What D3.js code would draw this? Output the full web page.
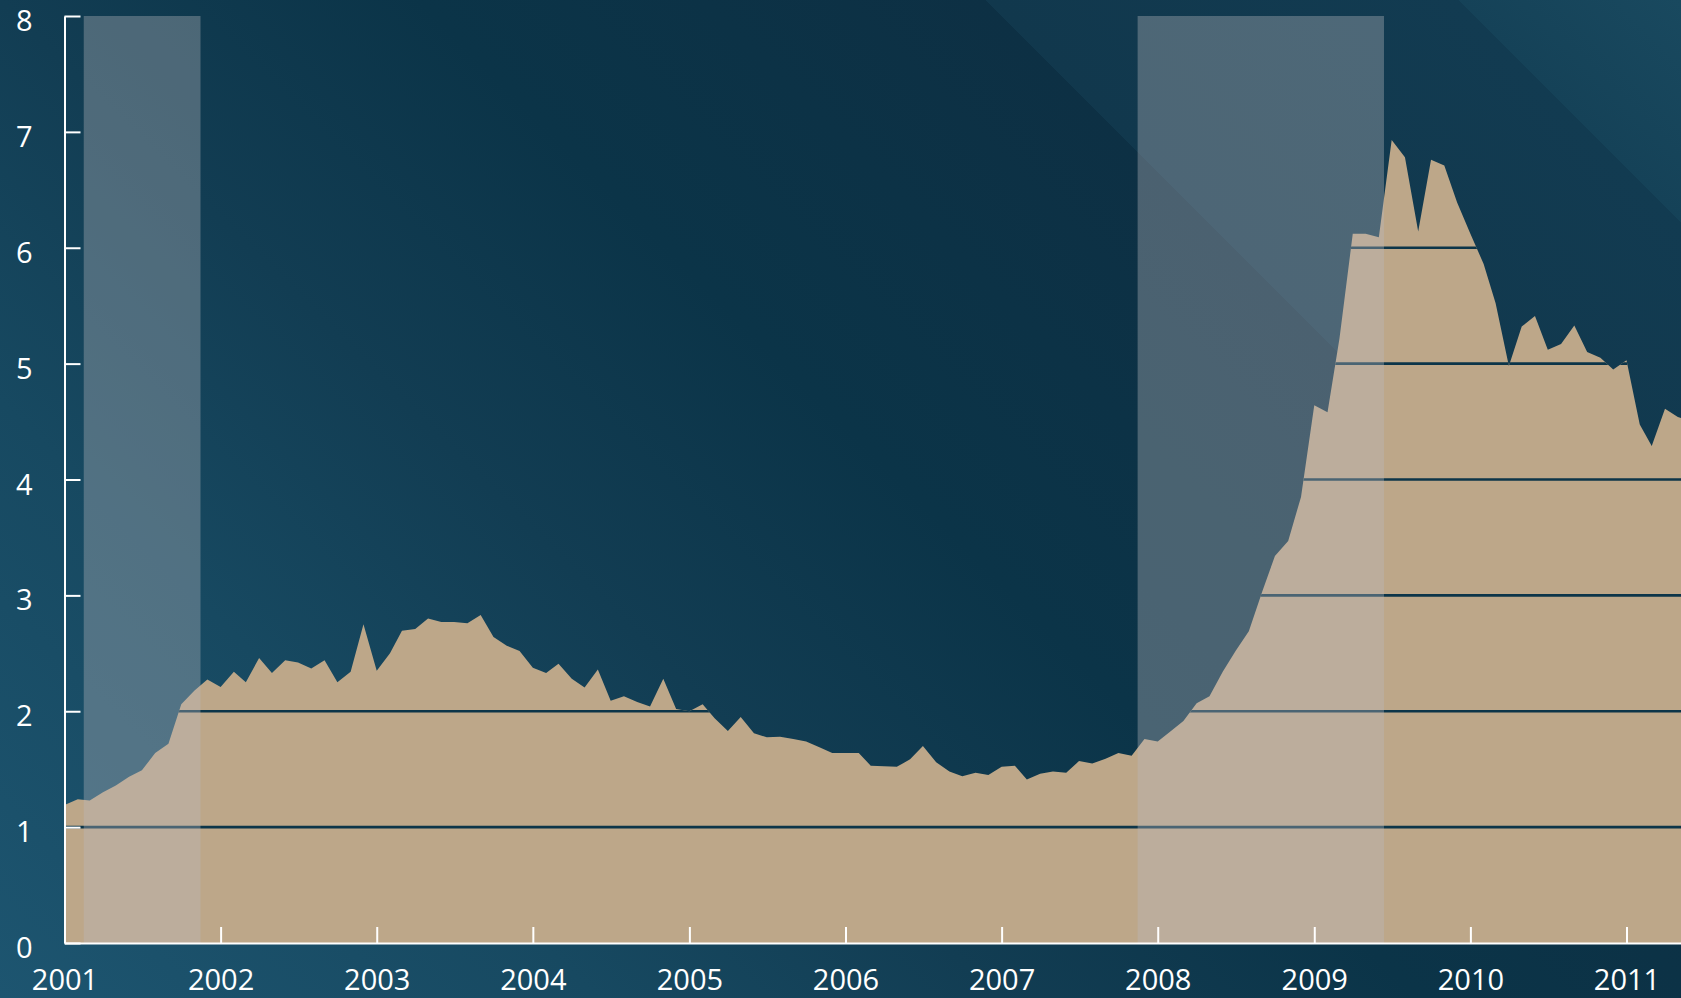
<!DOCTYPE html>
<html>
<head>
<meta charset="utf-8">
<script src="https://cdn.jsdelivr.net/npm/d3@7"></script>
<style>
  html, body { margin: 0; padding: 0; background: #0d3246; overflow: hidden; }
  svg { display: block; }
  .axis text { font-family: "Open Sans", sans-serif; font-size: 29px; fill: #fff; }
  .axis path, .axis line { stroke: #fff; stroke-width: 2; }
</style>
</head>
<body>
<svg id="chart" width="1681" height="998"></svg>
<script>
// Monthly values, Jan 2001 onwards
const startMonth = "2001-01";
const values = [
  1.19, 1.24, 1.23, 1.30, 1.36, 1.435, 1.49, 1.64, 1.72, 2.06, 2.18, 2.275,   // 2001
  2.21, 2.34, 2.25, 2.46, 2.33, 2.44, 2.42, 2.37, 2.44, 2.25, 2.34, 2.75,     // 2002
  2.35, 2.50, 2.695, 2.71, 2.80, 2.77, 2.77, 2.76, 2.83, 2.64, 2.565, 2.52,   // 2003
  2.375, 2.33, 2.41, 2.28, 2.205, 2.36, 2.09, 2.13, 2.08, 2.04, 2.28, 2.02,   // 2004
  2.00, 2.06, 1.94, 1.83, 1.95, 1.81, 1.775, 1.78, 1.76, 1.74, 1.69, 1.64,    // 2005
  1.64, 1.64, 1.53, 1.525, 1.52, 1.585, 1.70, 1.56, 1.48, 1.44, 1.47, 1.45,   // 2006
  1.52, 1.53, 1.41, 1.46, 1.48, 1.47, 1.57, 1.55, 1.59, 1.64, 1.615, 1.76,    // 2007
  1.74, 1.83, 1.915, 2.07, 2.13, 2.34, 2.52, 2.69, 3.03, 3.34, 3.47, 3.85,    // 2008
  4.64, 4.58, 5.22, 6.12, 6.12, 6.09, 6.93, 6.78, 6.14, 6.76, 6.71, 6.39,     // 2009
  6.12, 5.86, 5.52, 4.98, 5.32, 5.41, 5.12, 5.17, 5.33, 5.10, 5.05, 4.95,     // 2010
  5.03, 4.475, 4.29, 4.61, 4.54, 4.50                                         // 2011
];

// Shaded recession periods
const recessions = [
  ["2001-02-15", "2001-11-15"],
  ["2007-11-15", "2009-06-13"]
];

const yTicks = [0, 1, 2, 3, 4, 5, 6, 7, 8];
const yearTicks = [2001, 2002, 2003, 2004, 2005, 2006, 2007, 2008, 2009, 2010, 2011];

const W = 1681, H = 998;
const plotLeft = 64.5, plotBottom = 943, plotTop = 16;

const parseMonth = d3.timeParse("%Y-%m");
const parseDay = d3.timeParse("%Y-%m-%d");
const t0 = parseMonth(startMonth);
const data = values.map((v, i) => ({ date: d3.timeMonth.offset(t0, i), value: v }));

// one year = 156.2px, chart runs to the right edge
const xBase = d3.scaleTime()
  .domain([new Date(2001, 0, 1), new Date(2011, 0, 1)])
  .range([plotLeft, 1626.5]);
const x = d3.scaleTime()
  .domain([xBase.domain()[0], xBase.invert(W)])
  .range([plotLeft, W]);
const y = d3.scaleLinear().domain([0, 8]).range([plotBottom, plotTop]);

const svg = d3.select("#chart");
const defs = svg.append("defs");

// Background: diagonal gradient with two hard-edged light streaks
const grad = defs.append("linearGradient")
  .attr("id", "bg")
  .attr("gradientUnits", "userSpaceOnUse")
  .attr("x1", 0).attr("y1", 998)
  .attr("x2", 1339.5).attr("y2", -341.5);
const uToT = u => (u + 998) / 2679;
[
  [-998, "#1d5570"],
  [-400, "#174961"],
  [0, "#123d53"],
  [420, "#0b3448"],
  [985, "#0d3044"],
  [986, "#11384d"],
  [1458, "#123b51"],
  [1459, "#154258"],
  [1681, "#19495f"]
].forEach(([u, c]) => grad.append("stop").attr("offset", uToT(u)).attr("stop-color", c));

svg.append("rect").attr("width", W).attr("height", H).attr("fill", "url(#bg)");

const area = d3.area()
  .x(d => x(d.date))
  .y0(y(0))
  .y1(d => y(d.value));

defs.append("clipPath").attr("id", "areaClip")
  .append("path").datum(data).attr("d", area);

svg.append("path")
  .datum(data)
  .attr("fill", "#bda789")
  .attr("d", area);

// horizontal lines only show inside the filled area
svg.append("g")
  .attr("clip-path", "url(#areaClip)")
  .selectAll("line")
  .data(yTicks.filter(d => d > 0))
  .join("line")
  .attr("x1", plotLeft).attr("x2", W)
  .attr("y1", d => y(d)).attr("y2", d => y(d))
  .attr("stroke", "#0c3549")
  .attr("stroke-width", 2.6);

svg.append("g")
  .selectAll("rect")
  .data(recessions)
  .join("rect")
  .attr("x", d => x(parseDay(d[0])))
  .attr("width", d => x(parseDay(d[1])) - x(parseDay(d[0])))
  .attr("y", y(8))
  .attr("height", y(0) - y(8))
  .attr("fill", "rgb(186,186,192)")
  .attr("fill-opacity", 0.36);

// Axes
const yAxis = svg.append("g")
  .attr("class", "axis")
  .attr("transform", `translate(${plotLeft},0)`)
  .call(d3.axisLeft(y).tickValues(yTicks).tickSize(-16).tickSizeOuter(0).tickPadding(32).tickFormat(d3.format("d")));

const xAxis = svg.append("g")
  .attr("class", "axis")
  .attr("transform", `translate(0,${plotBottom})`)
  .call(d3.axisBottom(x)
    .tickValues(yearTicks.map(yr => new Date(yr, 0, 1)))
    .tickSize(-16).tickSizeOuter(0).tickPadding(26)
    .tickFormat(d3.timeFormat("%Y")));

svg.selectAll(".axis").attr("font-size", null).attr("font-family", null);
yAxis.selectAll("text").attr("dy", "0.5em");
</script>
</body>
</html>
